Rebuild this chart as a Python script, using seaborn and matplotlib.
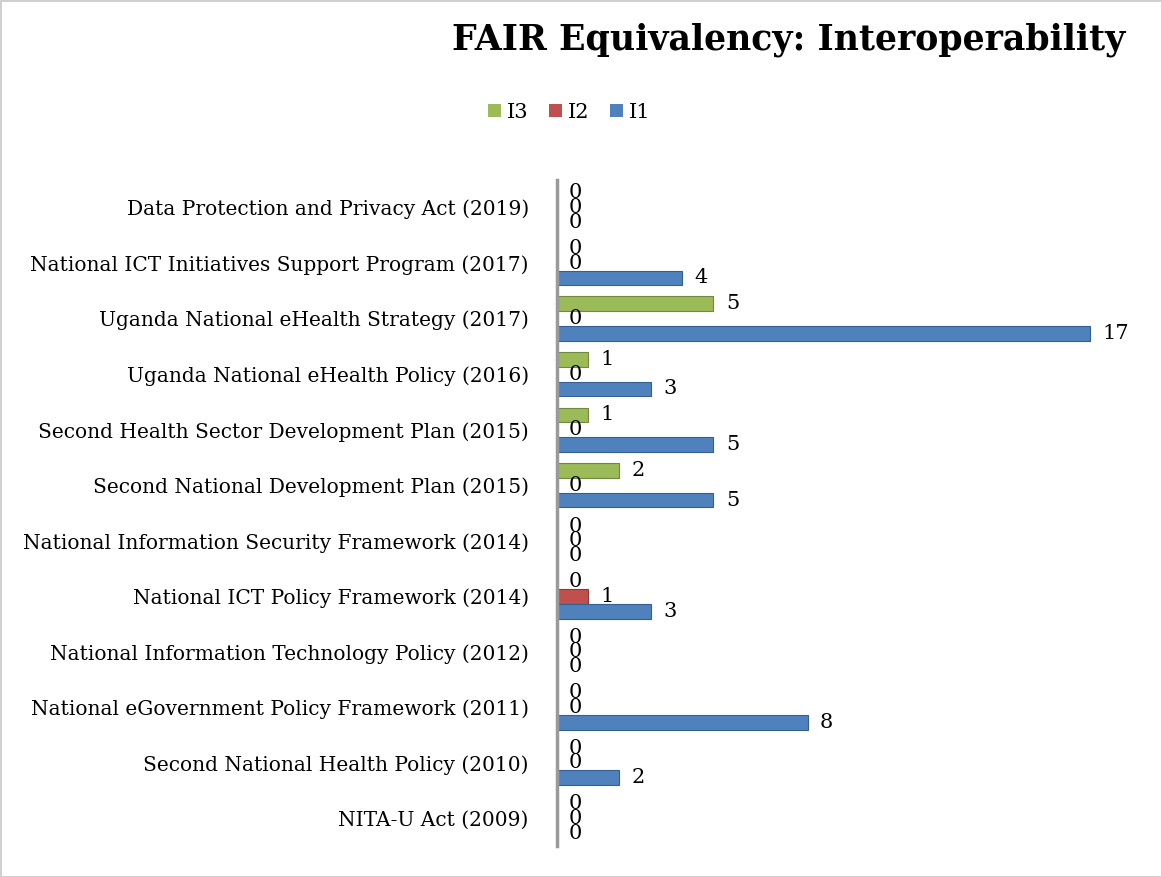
import seaborn as sns
import matplotlib.pyplot as plt
import pandas as pd

policies = [
    'Data Protection and Privacy Act (2019)',
    'National ICT Initiatives Support Program (2017)',
    'Uganda National eHealth Strategy (2017)',
    'Uganda National eHealth Policy (2016)',
    'Second Health Sector Development Plan (2015)',
    'Second National Development Plan (2015)',
    'National Information Security Framework (2014)',
    'National ICT Policy Framework (2014)',
    'National Information Technology Policy (2012)',
    'National eGovernment Policy Framework (2011)',
    'Second National Health Policy (2010)',
    'NITA-U Act (2009)',
]
i3 = [0, 0, 5, 1, 1, 2, 0, 0, 0, 0, 0, 0]
i2 = [0, 0, 0, 0, 0, 0, 0, 1, 0, 0, 0, 0]
i1 = [0, 4, 17, 3, 5, 5, 0, 3, 0, 8, 2, 0]
series = ['I3', 'I2', 'I1']
colors = {'I3': '#9BBB59', 'I2': '#C0504D', 'I1': '#4F81BD'}
edges = {'I3': '#71893f', 'I2': '#8c3836', 'I1': '#355f91'}

df = pd.DataFrame({'policy': policies, 'I3': i3, 'I2': i2, 'I1': i1})
long = df.melt(id_vars='policy', value_vars=series, var_name='series', value_name='value')

sns.set_style('white')
plt.rcParams['font.family'] = ['DejaVu Serif']
plt.rcParams['text.color'] = 'black'

fig = plt.figure(figsize=(11.62, 8.77), dpi=100)
fig.patch.set_edgecolor('#d0d0d0')
fig.patch.set_linewidth(2)
ax = fig.add_axes([0.479, 0.035, 0.486, 0.76])

sns.barplot(data=long, y='policy', x='value', hue='series', hue_order=series,
            order=policies, palette=colors, orient='h', width=0.8, saturation=1,
            linewidth=0.8, ax=ax)

for name, c in zip(series, ax.containers):
    for bar in c:
        bar.set_edgecolor(edges[name])
    ax.bar_label(c, padding=9, fontsize=15, color='black')

ax.set_xlim(0, 18)
ax.set_xlabel('')
ax.set_ylabel('')
ax.set_xticks([])
for s in ['top', 'right', 'bottom']:
    ax.spines[s].set_visible(False)
ax.spines['left'].set_color('#9a9a9a')
ax.spines['left'].set_linewidth(2.5)
ax.tick_params(axis='y', labelsize=14.5, length=0, pad=20, labelcolor='black')

handles, labels = ax.get_legend_handles_labels()
for h in handles:
    h.set_edgecolor('none')
ax.legend(handles, labels, loc='center', bbox_to_anchor=(0.49, 0.872),
          bbox_transform=fig.transFigure, ncol=3, frameon=False, fontsize=15,
          handlelength=0.6, handleheight=0.6, handletextpad=0.3, columnspacing=1.0)

fig.text(0.968, 0.955, 'FAIR Equivalency: Interoperability', ha='right', va='center',
         fontsize=25, fontweight='bold', color='black')

fig.savefig('out.png', dpi=100)
